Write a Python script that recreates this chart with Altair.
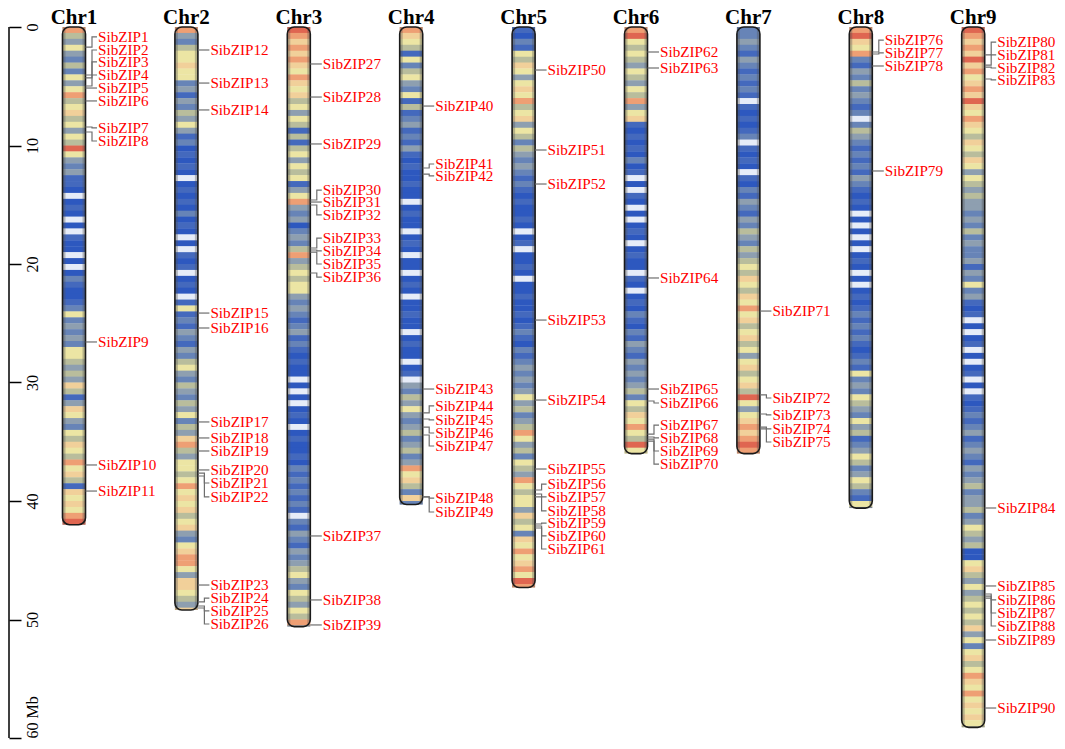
import altair as alt
import pandas as pd

# ---------------- data ----------------
CHROMS = ["Chr1", "Chr2", "Chr3", "Chr4", "Chr5", "Chr6", "Chr7", "Chr8", "Chr9"]
CHR_LEN = [42.0, 49.2, 50.6, 40.3, 47.3, 36.0, 36.0, 40.6, 59.1]   # Mb
BIN_MB = 0.5
# density level per 0.5 Mb bin (0 = none/white ... 9 = highest/red)
DENSITY = [
    "85464353646856756465964342" "2101210102110101321123" "634343665454752476436576586752767689",
    "8435667663" "4243546423" "1212101212" "1312101021" "2012102623" "2432435643"
    "5435463547" "8546656867" "6756743678" "864776547",
    "9878787687" "6756465252" "5646562468" "4341343584" "5656643432" "3423212110"
    "1010121012" "1121323232" "3203243243" "4564365465" "84",
    "8765263564" "3625234232" "4212112110" "1211012101" "1012101121" "1012110120"
    "4354643453" "4534867537" "3",
    "2132657646" "7685674653" "5434323212" "1121012011" "2101121121" "2321323434"
    "3464534586" "4536548656" "6475637686" "78698",
    "8965654654" "6584672121" "2131201021" "0101210121" "1021012132" "1324324343"
    "453657686596",
    "3343243232" "3202121230" "2121021324" "3243543545" "6576576867" "5675646756"
    "759646787898",
    "8976832435" "3432303543" "2323243212" "1010101012" "1010121232" "3232123263"
    "4365436452" "3465346532" "64",
    "9878797867" "8797687657" "6576465454" "4343534334" "2436342120" "1012010120"
    "1021232342" "3432434534" "4534654511" "6754645656" "5746367568" "768676765",
]
PALETTE = ["#e6ecf8", "#2d58bf", "#4469bd", "#6784b7", "#8e9fb0",
           "#b9bd9c", "#ece5a4", "#f1d09a", "#ee9f74", "#df6651"]

GENE_CHR = [1] * 11 + [2] * 15 + [3] * 13 + [4] * 10 + [5] * 12 + [6] * 9 + [7] * 5 + [8] * 4 + [9] * 11
GENE_MB = [
    1.69, 4.05, 4.30, 4.98, 5.15, 6.24, 8.44, 8.86, 26.58, 36.96, 39.16,
    1.94, 4.73, 7.00, 24.14, 25.40, 33.33, 34.68, 35.78, 37.38, 37.64, 37.89, 47.09, 48.52, 48.86, 49.03,
    3.12, 5.91, 9.87, 14.60, 14.77, 15.02, 18.65, 18.82, 18.99, 20.76, 42.95, 48.35, 50.46,
    6.67, 11.90, 12.41, 30.55, 32.57, 33.08, 33.76, 34.43, 39.66, 39.66,
    3.63, 10.38, 13.25, 24.73, 31.48, 37.30, 39.07, 39.41, 39.66, 41.94, 42.11, 42.28,
    2.11, 3.46, 21.18, 30.55, 31.56, 34.35, 34.60, 34.77, 34.94,
    23.97, 31.05, 32.66, 33.76, 33.92,
    2.11, 2.28, 3.29, 12.15,
    2.36, 3.21, 3.38, 4.39, 40.59, 47.17, 47.85, 48.02, 48.19, 51.73, 57.47,
]
LABEL_MB = [
    0.84, 1.94, 2.95, 4.05, 5.15, 6.24, 8.52, 9.62, 26.58, 36.96, 39.16,
    1.94, 4.73, 7.00, 24.14, 25.40, 33.33, 34.68, 35.78, 37.38, 38.48, 39.66, 47.09, 48.19, 49.28, 50.38,
    3.12, 5.91, 9.87, 13.76, 14.77, 15.86, 17.81, 18.90, 20.00, 21.10, 42.95, 48.35, 50.46,
    6.67, 11.56, 12.57, 30.55, 31.98, 33.16, 34.26, 35.36, 39.75, 40.93,
    3.63, 10.38, 13.25, 24.73, 31.48, 37.30, 38.57, 39.66, 40.84, 41.86, 42.95, 44.05,
    2.11, 3.46, 21.18, 30.55, 31.73, 33.59, 34.68, 35.78, 36.88,
    23.97, 31.31, 32.74, 33.92, 35.02,
    1.10, 2.19, 3.29, 12.15,
    1.27, 2.36, 3.46, 4.47, 40.59, 47.17, 48.35, 49.45, 50.55, 51.73, 57.47,
]
GENE_NAMES = [f"SibZIP{i + 1}" for i in range(len(GENE_MB))]
AXIS_TICKS = [0, 10, 20, 30, 40, 50, 60]

# ---------------- layout ----------------
W, H = 1049, 736
PX_PER_MB = 11.85
Y0_PX = 27.0
PX_PER_CHR = 112.4
X0_PX = 74.0


def ux(px):
    return (px - X0_PX) / PX_PER_CHR


def uy(px):
    return (px - Y0_PX) / PX_PER_MB


HALF = 11.5 / PX_PER_CHR
SHADE = 3.0 / PX_PER_CHR
STEP1 = 6.5 / PX_PER_CHR
STEP2 = 11.5 / PX_PER_CHR
LABEL_GAP = 12.5 / PX_PER_CHR

xscale = alt.Scale(domain=[ux(8), ux(8 + W)], nice=False, zero=False)
yscale = alt.Scale(domain=[uy(8), uy(8 + H)], nice=False, zero=False, reverse=True)

yaxis = alt.Axis(
    orient="right", offset=1 - W, values=AXIS_TICKS, tickSize=12, tickWidth=1.5,
    tickColor="black", domain=False, grid=False, labelAngle=270,
    labelAlign={"condition": {"test": "datum.value == 60", "value": "left"}, "value": "center"},
    labelBaseline="top", labelPadding=3, labelFont="Liberation Serif", labelFontSize=16,
    labelColor="black", labelOverlap=False, labelBound=False, labelFlush=False,
    labelExpr="datum.value == 60 ? '60 Mb' : datum.label", title=None,
)

# ---------------- tables ----------------
band_rows = []
for ci, (name, L, s) in enumerate(zip(CHROMS, CHR_LEN, DENSITY)):
    for j, ch in enumerate(s):
        a = j * BIN_MB
        if a >= L:
            break
        b = min(a + BIN_MB, L)
        band_rows.append({"chr": name, "x1": ci - HALF, "x2": ci + HALF,
                          "y1": a, "y2": min(b + 0.03, L), "level": int(ch)})
bands = pd.DataFrame(band_rows)

n = len(CHROMS)
chrdf = pd.DataFrame({
    "chr": CHROMS,
    "x1": [i - HALF for i in range(n)],
    "x2": [i + HALF for i in range(n)],
    "xc": list(range(n)),
    "y1": [0.0] * n,
    "y2": CHR_LEN,
    "ty": [uy(24.0)] * n,
})
shade = pd.DataFrame({
    "x1": [i - HALF for i in range(n)] + [i + HALF - SHADE for i in range(n)],
    "x2": [i - HALF + SHADE for i in range(n)] + [i + HALF for i in range(n)],
    "y1": [0.0] * (2 * n),
    "y2": CHR_LEN * 2,
})

conn_rows = []
lab_rows = []
for name, c, g, l in zip(GENE_NAMES, GENE_CHR, GENE_MB, LABEL_MB):
    edge = (c - 1) + HALF
    pts = [(edge, g), (edge + STEP1, g), (edge + STEP1, l), (edge + STEP2, l)]
    for k, (px, py) in enumerate(pts):
        conn_rows.append({"gene": name, "k": k, "x": px, "y": py})
    lab_rows.append({"gene": name, "x": edge + LABEL_GAP, "y": l})
conn = pd.DataFrame(conn_rows)
labs = pd.DataFrame(lab_rows)

ruler = pd.DataFrame({"x": [ux(9)], "y1": [AXIS_TICKS[0]], "y2": [AXIS_TICKS[-1]]})

X = lambda f: alt.X(f, type="quantitative", scale=xscale, axis=None)
Y = lambda f: alt.Y(f, type="quantitative", scale=yscale, axis=yaxis)

band_layer = alt.Chart(bands).mark_rect().encode(
    x=X("x1"), x2="x2", y=Y("y1"), y2="y2",
    color=alt.Color("level:O", scale=alt.Scale(domain=list(range(10)), range=PALETTE), legend=None),
)

shade_layer = alt.Chart(shade).mark_rect(color="#505050", opacity=0.35).encode(
    x=X("x1"), x2="x2", y=Y("y1"), y2="y2"
)

outline_layer = alt.Chart(chrdf).mark_rect(
    fillOpacity=0, stroke="#1a1a1a", strokeWidth=1.6, cornerRadius=7
).encode(x=X("x1"), x2="x2", y=Y("y1"), y2="y2")

title_layer = alt.Chart(chrdf).mark_text(
    font="Liberation Serif", fontWeight="bold", fontSize=21, baseline="alphabetic", color="black"
).encode(x=X("xc"), y=Y("ty"), text="chr:N")

conn_layer = alt.Chart(conn).mark_line(color="#6e6e6e", strokeWidth=1.2).encode(
    x=X("x"), y=Y("y"), detail="gene:N", order="k:Q"
)

label_layer = alt.Chart(labs).mark_text(
    font="Liberation Serif", fontSize=15.2, align="left", baseline="middle", color="#ff0000"
).encode(x=X("x"), y=Y("y"), text="gene:N")

ruler_layer = alt.Chart(ruler).mark_rule(color="black", strokeWidth=1.5).encode(
    x=X("x"), y=Y("y1"), y2="y2"
)

chart = alt.layer(
    band_layer, shade_layer, outline_layer, conn_layer, label_layer, title_layer, ruler_layer
).properties(
    width=W, height=H, padding=0, background="white",
    autosize=alt.AutoSizeParams(type="none"),
).configure_view(strokeWidth=0)

chart.save("out.html", embed_options={"renderer": "svg", "actions": False})
